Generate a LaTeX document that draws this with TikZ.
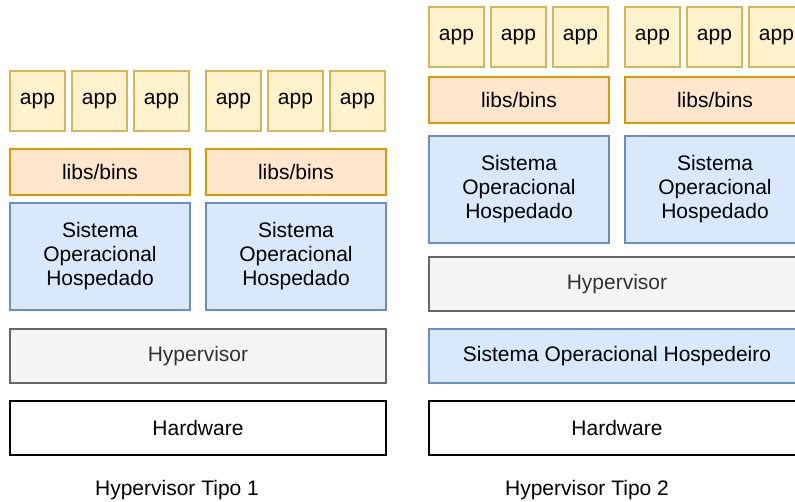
\documentclass[tikz,border=0pt]{standalone}
\usepackage{fontspec}
\setmainfont{Liberation Sans}
\usetikzlibrary{positioning}

\definecolor{appfill}{HTML}{FFF2CC}
\definecolor{appline}{HTML}{D6B656}
\definecolor{libfill}{HTML}{FFE6CC}
\definecolor{libline}{HTML}{D79B00}
\definecolor{osfill}{HTML}{DAE8FC}
\definecolor{osline}{HTML}{6C8EBF}
\definecolor{hypfill}{HTML}{F5F5F5}
\definecolor{hypline}{HTML}{666666}
\definecolor{hyptext}{HTML}{333333}

\begin{document}
\begin{tikzpicture}[
  x=1pt, y=-1pt,
  every node/.style={font=\fontsize{21}{24}\selectfont},
  layer/.style={rectangle, line width=1.2pt, align=center, inner sep=0pt,
                outer sep=0pt},
  appbox/.style={layer, draw=appline, fill=appfill,
                 minimum width=55pt, minimum height=60pt},
  libbox/.style={layer, draw=libline, fill=libfill,
                 minimum width=180pt, minimum height=46pt},
  guestos/.style={layer, draw=osline, fill=osfill,
                  minimum width=180pt, minimum height=107pt},
  hostos/.style={layer, draw=osline, fill=osfill,
                 minimum width=376pt, minimum height=54pt},
  hypbox/.style={layer, draw=hypline, fill=hypfill, text=hyptext,
                 minimum width=376pt, minimum height=54pt},
  hwbox/.style={layer, draw=black, fill=white,
                minimum width=376pt, minimum height=54pt},
  caption/.style={inner sep=0pt}
]
  \useasboundingbox (0,0) rectangle (795,501);

  % Tipo 1: hypervisor directly on the hardware
  \node[hwbox] (hw1) at (198,428) {Hardware};
  \node[hypbox, above=18pt of hw1] (hyp1) {Hypervisor};

  \node[guestos, above right=19pt and 0pt of hyp1.north west] (os1a)
    {Sistema\\Operacional\\Hospedado};
  \node[guestos, above left=19pt and 0pt of hyp1.north east] (os1b)
    {Sistema\\Operacional\\Hospedado};

  \node[libbox, above=8pt of os1a] (lib1a) {libs/bins};
  \node[libbox, above=8pt of os1b] (lib1b) {libs/bins};

  \node[appbox, above right=18pt and 0pt of lib1a.north west] (app1a) {app};
  \node[appbox, right=7pt of app1a] (app1b) {app};
  \node[appbox, right=7pt of app1b] (app1c) {app};
  \node[appbox, above right=18pt and 0pt of lib1b.north west] (app1d) {app};
  \node[appbox, right=7pt of app1d] (app1e) {app};
  \node[appbox, right=7pt of app1e] (app1f) {app};

  \node[caption, below=25pt of hw1, xshift=-21pt] (tipo1) {Hypervisor Tipo 1};

  % Tipo 2: hypervisor on top of a host OS
  \node[hwbox] (hw2) at (617,428) {Hardware};
  \node[hostos, above=18pt of hw2] (host) {Sistema Operacional Hospedeiro};
  \node[hypbox, above=18pt of host] (hyp2) {Hypervisor};

  \node[guestos, above right=14pt and 0pt of hyp2.north west] (os2a)
    {Sistema\\Operacional\\Hospedado};
  \node[guestos, above left=14pt and 0pt of hyp2.north east] (os2b)
    {Sistema\\Operacional\\Hospedado};

  \node[libbox, above=13pt of os2a] (lib2a) {libs/bins};
  \node[libbox, above=13pt of os2b] (lib2b) {libs/bins};

  \node[appbox, above right=10pt and 0pt of lib2a.north west] (app2a) {app};
  \node[appbox, right=7pt of app2a] (app2b) {app};
  \node[appbox, right=7pt of app2b] (app2c) {app};
  \node[appbox, above right=10pt and 0pt of lib2b.north west] (app2d) {app};
  \node[appbox, right=7pt of app2d] (app2e) {app};
  \node[appbox, right=7pt of app2e] (app2f) {app};

  \node[caption, below=25pt of hw2, xshift=-30pt] (tipo2) {Hypervisor Tipo 2};
\end{tikzpicture}
\end{document}
